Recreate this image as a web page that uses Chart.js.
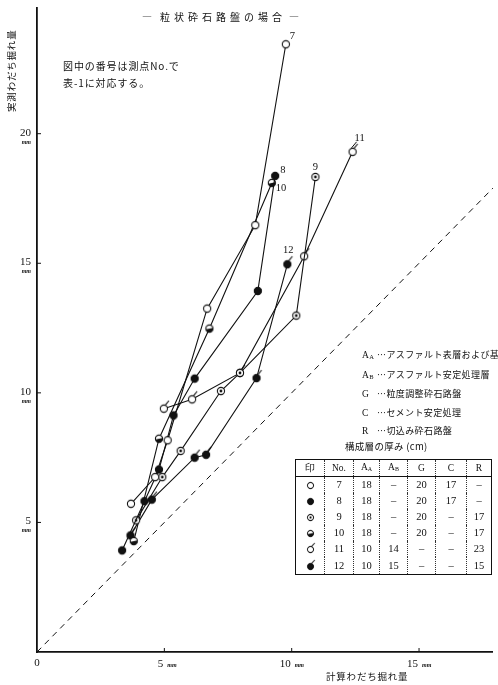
<!DOCTYPE html>
<html lang="ja">
<head>
<meta charset="utf-8">
<title>粒状砕石路盤の場合</title>
<script src="https://cdn.jsdelivr.net/npm/chart.js@4"></script>
<style>
  html, body { margin: 0; padding: 0; background: #fff; }
  #wrap { position: relative; width: 498px; height: 685px; overflow: hidden;
          font-family: "Noto Sans CJK JP", "DejaVu Serif", serif; color: #111; }
  #c { position: absolute; left: 0; top: 0; }
  .t { position: absolute; white-space: nowrap; line-height: 1; }
  #title { left: 142px; top: 12px; font-size: 10px; letter-spacing: 4px; }
  #title .d { letter-spacing: 0; margin-right: 8px; }
  #title .d2 { letter-spacing: 0; margin-left: 3px; }
  #note { left: 63px; top: 57px; font-size: 10px; line-height: 17px; letter-spacing: 0.9px; }
  #ylab { left: -30px; top: 66px; width: 84px; text-align: center; font-size: 9.5px;
          letter-spacing: 0.8px; transform: rotate(-90deg); }
  #xlab { left: 326px; top: 672px; font-size: 9.5px; letter-spacing: 0.8px; }
  #leg { left: 362px; top: 346px; font-size: 9px; line-height: 17.5px; letter-spacing: 0.4px; }
  #leg .k { display: inline-block; width: 15px; font-family: "Liberation Serif", serif; font-size: 9.5px; }
  #leg sub { font-size: 6.5px; vertical-align: -1px; }
  #tcap { left: 345px; top: 442px; font-size: 9.5px; letter-spacing: 0.3px; }
  #tbl { position: absolute; left: 295px; top: 459px; border-collapse: collapse;
         font-family: "Liberation Serif", "DejaVu Serif", serif; font-size: 10.5px; }
  #tbl td { border-left: 1px dotted #333; padding: 0; text-align: center; height: 16px; line-height: 16px; }
  #tbl tr.h td { height: 14px; line-height: 14px; border-bottom: 1.2px solid #111; font-size: 9.5px; }
  #tbl { border: 1.5px solid #111; }
  #tbl img { vertical-align: middle; }
  #tbl sub { font-size: 6px; vertical-align: -1px; }
</style>
</head>
<body>
<div id="wrap">
  <canvas id="c" width="498" height="685"></canvas>
  <div class="t" id="title"><span class="d">—</span>粒状砕石路盤の場合<span class="d2">—</span></div>
  <div class="t" id="note">図中の番号は測点No.で<br>表-1に対応する。</div>
  <div class="t" id="ylab">実測わだち掘れ量</div>
  <div class="t" id="xlab">計算わだち掘れ量</div>
  <div class="t" id="leg"></div>
  <div class="t" id="tcap">構成層の厚み (cm)</div>
  <table id="tbl"></table>
</div>
<script>
// 軸の範囲・目盛り
const X_MAX = 17.9;
const Y_MAX = 24.85;
const X_TICKS = [5, 10, 15];
const Y_TICKS = [5, 10, 15, 20];

// 45°線 (計算 = 実測)
const DIAG_X = [0, 17.9];
const DIAG_Y = [0, 17.9];

// 測点ごとの推移 (計算わだち掘れ量, 実測わだち掘れ量) [mm]
const S7_X  = [3.69, 4.64, 5.13, 6.68, 8.57, 9.77];
const S7_Y  = [5.72, 6.75, 8.17, 13.25, 16.47, 23.45];
const S8_X  = [3.34, 4.22, 4.79, 5.36, 6.19, 8.67, 9.35];
const S8_Y  = [3.92, 5.82, 7.04, 9.13, 10.55, 13.93, 18.37];
const S9_X  = [3.89, 4.92, 5.64, 7.22, 7.97, 10.18, 10.93];
const S9_Y  = [5.08, 6.75, 7.76, 10.07, 10.77, 12.98, 18.33];
const S10_X = [3.80, 4.79, 6.77, 9.22];
const S10_Y = [4.28, 8.23, 12.48, 18.10];
const S11_X = [4.98, 6.09, 7.97, 10.49, 12.39];
const S11_Y = [9.39, 9.75, 10.77, 15.27, 19.30];
const S12_X = [3.67, 4.51, 6.19, 6.64, 8.62, 9.83];
const S12_Y = [4.50, 5.88, 7.50, 7.61, 10.57, 14.96];

const SERIES_NO = ["7", "8", "9", "10", "11", "12"];
const SERIES_MARK = ["open", "filled", "target", "half", "tickOpen", "tickFilled"];

// 凡例と表
const LEG_KEYS = [["A", "A"], ["A", "B"], ["G", ""], ["C", ""], ["R", ""]];
const LEG_TEXT = ["…アスファルト表層および基層", "…アスファルト安定処理層",
                  "…粒度調整砕石路盤", "…セメント安定処理", "…切込み砕石路盤"];
const TBL_HEAD = ["印", "No.", "A<sub>A</sub>", "A<sub>B</sub>", "G", "C", "R"];
const TBL_AA = ["18", "18", "18", "18", "10", "10"];
const TBL_AB = ["–", "–", "–", "–", "14", "15"];
const TBL_G  = ["20", "20", "20", "20", "–", "–"];
const TBL_C  = ["17", "17", "–", "–", "–", "–"];
const TBL_R  = ["–", "–", "17", "17", "23", "15"];
const TBL_W  = [28, 28, 25, 27, 27, 30, 24];

const INK = "#111";

function pts(xs, ys) { return xs.map((x, i) => ({ x, y: ys[i] })); }

// 記号をcanvasで作る
function makeMarker(kind) {
  const cv = document.createElement("canvas");
  cv.width = 18; cv.height = 18;
  const g = cv.getContext("2d");
  const cx = 9, cy = 9, r = 3.6;
  g.lineWidth = 1.1; g.strokeStyle = INK;
  g.beginPath(); g.arc(cx, cy, r, 0, Math.PI * 2);
  g.fillStyle = (kind === "filled" || kind === "tickFilled") ? INK : "#fff";
  g.fill(); g.stroke();
  if (kind === "target") {
    g.beginPath(); g.arc(cx, cy, 1.4, 0, Math.PI * 2); g.fillStyle = INK; g.fill();
  }
  if (kind === "half") {
    g.beginPath(); g.arc(cx, cy, r, -0.2, Math.PI - 0.2); g.closePath(); g.fillStyle = INK; g.fill();
  }
  if (kind === "tickOpen" || kind === "tickFilled") {
    g.beginPath(); g.moveTo(cx + 1.5, cy - r); g.lineTo(cx + 5, cy - 8); g.stroke();
  }
  return cv;
}
const MARKERS = SERIES_MARK.map(makeMarker);

// 凡例・表をHTMLで
document.getElementById("leg").innerHTML = LEG_KEYS.map((k, i) =>
  `<div><span class="k">${k[0]}${k[1] ? "<sub>" + k[1] + "</sub>" : ""}</span>${LEG_TEXT[i]}</div>`).join("");

(function buildTable() {
  const tb = document.getElementById("tbl");
  let html = '<tr class="h">' + TBL_HEAD.map((h, i) =>
    `<td style="width:${TBL_W[i]}px">${h}</td>`).join("") + "</tr>";
  SERIES_NO.forEach((no, i) => {
    html += `<tr><td><img src="${MARKERS[i].toDataURL()}" width="15" height="15"></td>` +
      [no, TBL_AA[i], TBL_AB[i], TBL_G[i], TBL_C[i], TBL_R[i]].map(v => `<td>${v}</td>`).join("") + "</tr>";
  });
  tb.innerHTML = html;
})();

const seriesData = [[S7_X, S7_Y], [S8_X, S8_Y], [S9_X, S9_Y], [S10_X, S10_Y], [S11_X, S11_Y], [S12_X, S12_Y]];

// 番号ラベルの位置 (最上点からのずれ)
const LABEL_OFF = [[4, -8, "left"], [5, -6, "left"], [0, -10, "center"], [4, 5, "left"], [2, -14, "left"], [1, -14, "center"]];

const decor = {
  id: "decor",
  afterDraw(chart) {
    const { ctx, scales: { x, y } } = chart;
    ctx.save();
    ctx.strokeStyle = INK; ctx.fillStyle = INK; ctx.lineWidth = 1;
    const x0 = x.getPixelForValue(0), y0 = y.getPixelForValue(0);
    // 目盛り
    X_TICKS.forEach(v => {
      const px = x.getPixelForValue(v);
      ctx.beginPath(); ctx.moveTo(px, y0); ctx.lineTo(px, y0 - 4); ctx.stroke();
      ctx.font = "11px 'Liberation Serif', serif"; ctx.textAlign = "right"; ctx.textBaseline = "alphabetic";
      ctx.fillText(String(v), px - 1, y0 + 15);
      ctx.font = "italic bold 6px 'Liberation Serif', serif"; ctx.textAlign = "left";
      ctx.fillText("mm", px + 3, y0 + 15);
    });
    ctx.font = "11px 'Liberation Serif', serif"; ctx.textAlign = "center";
    ctx.fillText("0", x0, y0 + 14);
    Y_TICKS.forEach(v => {
      const py = y.getPixelForValue(v);
      ctx.beginPath(); ctx.moveTo(x0, py); ctx.lineTo(x0 + 4, py); ctx.stroke();
      ctx.font = "11px 'Liberation Serif', serif"; ctx.textAlign = "right"; ctx.textBaseline = "alphabetic";
      ctx.fillText(String(v), x0 - 6, py + 2);
      ctx.font = "italic bold 6px 'Liberation Serif', serif";
      ctx.fillText("mm", x0 - 6, py + 10);
    });
    // 測点番号
    ctx.font = "10.5px 'Liberation Serif', serif"; ctx.textBaseline = "middle";
    seriesData.forEach(([xs, ys], i) => {
      const n = xs.length - 1;
      const px = x.getPixelForValue(xs[n]), py = y.getPixelForValue(ys[n]);
      const [dx, dy, al] = LABEL_OFF[i];
      ctx.textAlign = al;
      ctx.fillText(SERIES_NO[i], px + dx, py + dy);
      if (i === 4) { ctx.beginPath(); ctx.moveTo(px - 1, py - 4); ctx.lineTo(px + 4, py - 10); ctx.stroke(); }
    });
    ctx.restore();
  }
};

const datasets = [{
  data: pts(DIAG_X, DIAG_Y), showLine: true, borderColor: INK, borderWidth: 1,
  borderDash: [6, 5], pointRadius: 0, order: 10
}].concat(seriesData.map(([xs, ys], i) => ({
  data: pts(xs, ys), showLine: true, borderColor: INK, borderWidth: 1.1,
  pointStyle: MARKERS[i], pointRadius: 4, order: i
})));

new Chart(document.getElementById("c"), {
  type: "scatter",
  data: { datasets },
  options: {
    responsive: false, animation: false, devicePixelRatio: 1,
    layout: { padding: { left: 37, right: 0, top: 8, bottom: 33 } },
    plugins: { legend: { display: false }, tooltip: { enabled: false } },
    scales: {
      x: { type: "linear", min: 0, max: X_MAX,
           ticks: { display: false }, grid: { display: false, drawTicks: false },
           border: { display: true, color: INK, width: 1.8 } },
      y: { type: "linear", min: 0, max: Y_MAX,
           ticks: { display: false }, grid: { display: false, drawTicks: false },
           border: { display: true, color: INK, width: 1.8 } }
    }
  },
  plugins: [decor]
});
</script>
</body>
</html>
